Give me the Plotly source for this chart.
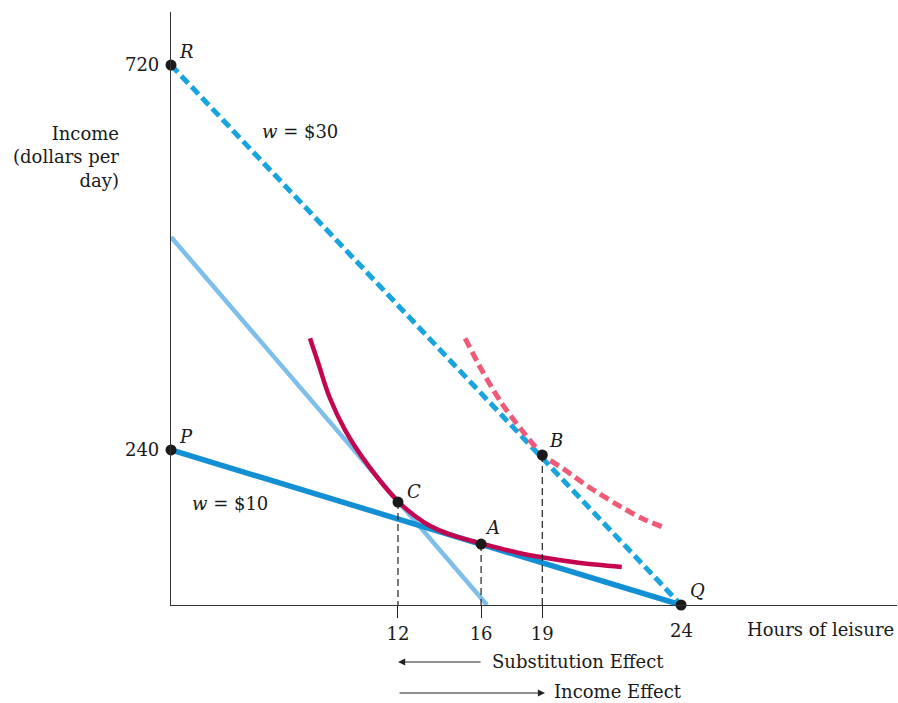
import plotly.graph_objects as go

# ---- data (schematic units: hours of leisure, dollars/day) ----
x_tick_pos = [10.68, 14.59, 17.47]
x_tick_text = ["12", "16", "19"]
q_label = "24"
y_tick_pos = [720, 206.7]
y_tick_text = ["720", "240"]

budget30_x = [0, 24]
budget30_y = [720, 0]
budget10_x = [0, 24]
budget10_y = [206.7, 0]
hypo_x = [0, 14.87]
hypo_y = [490.7, 0]

ic_low_x = [6.54, 6.93, 7.45, 8.19, 9.21, 10.70, 11.87, 12.66, 13.44, 14.57, 16.27, 17.52, 19.09, 21.21]
ic_low_y = [355.6, 322.3, 277.7, 233.3, 188.9, 137.7, 110.7, 99.1, 91.1, 82.3, 70, 63.3, 56.7, 50.7]

ic_high_x = [13.84, 14.62, 15.56, 16.50, 17.47, 18.54, 19.64, 20.89, 22.15, 23.17]
ic_high_y = [355.6, 313.3, 268.9, 233.3, 201, 180, 157.7, 135.6, 115.6, 103.6]

pt_names = ["R", "P", "C", "A", "B", "Q"]
pt_x = [0, 0, 10.68, 14.59, 17.47, 24]
pt_y = [720, 206.7, 137.3, 81.3, 200, 0]
pt_dx = [15, 15, 16, 11, 14, 16]
pt_dy = [14, 13, 11, 17, 15, 15]

FONT = "DejaVu Serif"
FS = 18
TXT = "#1a1a1a"

fig = go.Figure()

fig.add_trace(go.Scatter(x=hypo_x, y=hypo_y, mode="lines",
                         line=dict(color="#7dbfea", width=4.5), hoverinfo="skip"))
fig.add_trace(go.Scatter(x=budget10_x, y=budget10_y, mode="lines",
                         line=dict(color="#138fd3", width=5.5), hoverinfo="skip"))
fig.add_trace(go.Scatter(x=budget30_x, y=budget30_y, mode="lines",
                         line=dict(color="#18a4de", width=5, dash="10px,5px"), hoverinfo="skip"))
fig.add_trace(go.Scatter(x=ic_low_x, y=ic_low_y, mode="lines",
                         line=dict(color="#c3064f", width=4.5, shape="spline", smoothing=1.0),
                         hoverinfo="skip"))
fig.add_trace(go.Scatter(x=ic_high_x, y=ic_high_y, mode="lines",
                         line=dict(color="#ef5a77", width=5, dash="10px,5px", shape="spline",
                                   smoothing=0.8), hoverinfo="skip"))

# vertical dashed drop lines
for nm in ["C", "A", "B"]:
    i = pt_names.index(nm)
    fig.add_trace(go.Scatter(x=[pt_x[i], pt_x[i]], y=[pt_y[i], 0], mode="lines",
                             line=dict(color="#222222", width=1.2, dash="7px,4px"), hoverinfo="skip"))

fig.add_trace(go.Scatter(x=pt_x, y=pt_y, mode="markers", cliponaxis=False,
                         marker=dict(color="#1a1a1a", size=11), hoverinfo="skip"))

annotations = []
for nm, x, y, dx, dy in zip(pt_names, pt_x, pt_y, pt_dx, pt_dy):
    annotations.append(dict(x=x, y=y, xref="x", yref="y", text=f"<i>{nm}</i>", showarrow=False,
                            xshift=dx, yshift=dy, font=dict(family=FONT, size=FS, color=TXT)))

annotations += [
    dict(x=6.07, y=632, xref="x", yref="y", text="<i>w</i> = $30", showarrow=False,
         font=dict(family=FONT, size=FS, color=TXT)),
    dict(x=2.78, y=136, xref="x", yref="y", text="<i>w</i> = $10", showarrow=False,
         font=dict(family=FONT, size=FS, color=TXT)),
    dict(x=24, y=0, xref="x", yref="y", text=q_label, showarrow=False, yshift=-25,
         font=dict(family=FONT, size=FS, color=TXT)),
    dict(x=-0.0689, y=0.7555, xref="paper", yref="paper", xanchor="right", yanchor="middle",
         align="right", text="Income<br>(dollars per<br>day)", showarrow=False,
         font=dict(family=FONT, size=FS, color=TXT)),
    dict(x=0.79, y=-0.042, xref="paper", yref="paper", xanchor="left", yanchor="middle",
         text="Hours of leisure", showarrow=False, font=dict(family=FONT, size=FS, color=TXT)),
    dict(x=0.3127, y=-0.0961, ax=84, ay=0, xref="paper", yref="paper",
         axref="pixel", ayref="pixel", text="", showarrow=True, arrowhead=2, arrowsize=1.3,
         arrowwidth=1.1, arrowcolor="#222"),
    dict(x=0.4394, y=-0.0961, xref="paper", yref="paper", xanchor="left", yanchor="middle",
         text="Substitution Effect", showarrow=False, font=dict(family=FONT, size=FS, color=TXT)),
    dict(x=0.5152, y=-0.1484, ax=-147, ay=0, xref="paper", yref="paper",
         axref="pixel", ayref="pixel", text="", showarrow=True, arrowhead=2, arrowsize=1.3,
         arrowwidth=1.1, arrowcolor="#222"),
    dict(x=0.5248, y=-0.1467, xref="paper", yref="paper", xanchor="left", yanchor="middle",
         text="Income Effect", showarrow=False, font=dict(family=FONT, size=FS, color=TXT)),
]

fig.update_layout(
    width=898, height=703,
    margin=dict(l=171, r=1, t=12, b=98),
    paper_bgcolor="white", plot_bgcolor="white",
    showlegend=False,
    annotations=annotations,
    font=dict(family=FONT, size=FS, color=TXT),
    xaxis=dict(range=[0, 34.16], showgrid=False, zeroline=False, showline=True,
               linecolor="#333", linewidth=1.2, tickvals=x_tick_pos, ticktext=x_tick_text,
               ticks="outside", ticklen=12, tickcolor="#222", tickwidth=1.2,
               tickfont=dict(family=FONT, size=FS, color=TXT), fixedrange=True),
    yaxis=dict(range=[0, 790.7], showgrid=False, zeroline=False, showline=True,
               linecolor="#333", linewidth=1.2, tickvals=y_tick_pos, ticktext=y_tick_text,
               ticks="outside", ticklen=7, tickcolor="rgba(0,0,0,0)",
               tickfont=dict(family=FONT, size=FS, color=TXT), fixedrange=True),
)

fig.write_html(
    "out.html",
    config={"displayModeBar": False},
    post_script="document.body.style.margin='0';document.body.style.overflow='hidden';",
)
